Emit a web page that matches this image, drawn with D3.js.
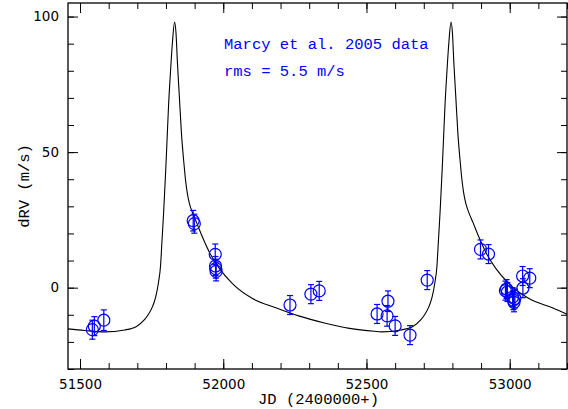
<!DOCTYPE html>
<html>
<head>
<meta charset="utf-8">
<script src="https://cdn.jsdelivr.net/npm/d3@7"></script>
<style>
  body { margin: 0; background: #fff; }
  svg { display: block; }
  .tick text { font-family: 'DejaVu Sans', sans-serif; font-size: 13.5px; fill: #000; }
  .lbl { font-family: 'Liberation Mono', monospace; font-size: 15.5px; }
</style>
</head>
<body>
<svg width="568" height="409"></svg>
<script>
// observed radial velocities (JD - 2400000, dRV in m/s, error)
const obsJD  = [51543, 51550, 51583, 51895, 51899, 51972, 51973, 51974, 51975,
                52233, 52306, 52335, 52537, 52572, 52575, 52600, 52652, 52712,
                52898, 52926, 52985, 52989, 52992, 53010, 53013, 53015, 53018,
                53045, 53046, 53070];
const obsRV  = [-15.5, -14.2, -12.0, 24.7, 23.6, 12.3, 8.0, 7.0, 6.0,
                -6.4, -2.4, -1.2, -9.7, -10.4, -5.0, -14.1, -17.5, 2.8,
                14.1, 12.4, -1.1, -0.5, -1.6, -3.5, -4.6, -5.4, -4.0,
                4.3, -0.2, 3.5];
const obsErr = [3.5, 3.5, 3.8, 3.8, 3.5, 3.8, 3.5, 3.5, 3.5,
                3.5, 3.5, 3.5, 3.5, 3.8, 3.8, 3.5, 3.5, 3.5,
                3.5, 3.5, 3.5, 3.5, 3.5, 3.5, 3.5, 3.5, 3.5,
                3.5, 3.5, 3.5];

// model curve
const fitJD = [51458, 51516, 51586, 51656, 51697, 51725, 51739, 51753, 51764, 51774,
               51781, 51786, 51792, 51799, 51804, 51809, 51816, 51823, 51830, 51835,
               51840, 51847, 51854, 51863, 51868, 51875, 51882, 51893, 51907, 51928,
               51952, 51987, 52032, 52102, 52186, 52266, 52353, 52441, 52528, 52551,
               52620, 52662, 52690, 52704, 52718, 52729, 52739, 52746, 52751, 52757,
               52764, 52769, 52774, 52781, 52788, 52795, 52800, 52805, 52812, 52819,
               52828, 52833, 52840, 52847, 52858, 52872, 52893, 52917, 52952, 52997,
               53067, 53151, 53200];
const fitRV = [-15.2, -15.8, -16.3, -15.6, -14.3, -11.8, -9.8, -7.0, -3.5, 2.0,
               8.0, 17.0, 28.0, 43.0, 55.0, 67.0, 80.0, 91.0, 98.0, 94.0,
               83.0, 70.0, 57.0, 45.5, 40.0, 34.5, 31.0, 27.5, 24.0, 18.5,
               13.0, 7.0, 1.5, -4.0, -7.5, -10.5, -13.0, -15.0, -16.1, -16.3,
               -15.6, -14.3, -11.8, -9.8, -7.0, -3.5, 2.0, 8.0, 17.0, 28.0,
               43.0, 55.0, 67.0, 80.0, 91.0, 98.0, 94.0, 83.0, 70.0, 57.0,
               45.5, 40.0, 34.5, 31.0, 27.5, 24.0, 18.5, 13.0, 7.0, 1.5,
               -4.0, -7.5, -9.8];

const xMajor = [51500, 52000, 52500, 53000];
const xMinor = d3.range(51500, 53201, 100);
const yMajor = [0, 50, 100];
const yMinor = d3.range(-30, 106, 10);

const svg = d3.select('svg'),
      mLeft = 68, mRight = 567, mTop = 3, mBottom = 369;

const x = d3.scaleLinear().domain([51458, 53200]).range([mLeft, mRight]);
const y = d3.scaleLinear().domain([-30, 105]).range([mBottom, mTop]);

// minor ticks on all four sides
svg.append('g').attr('transform', 'translate(0,' + mBottom + ')')
    .call(d3.axisBottom(x).tickValues(xMinor).tickSize(-6).tickSizeOuter(0).tickFormat(''));
svg.append('g').attr('transform', 'translate(0,' + mTop + ')')
    .call(d3.axisTop(x).tickValues(xMinor).tickSize(-6).tickSizeOuter(0).tickFormat(''));
svg.append('g').attr('transform', 'translate(' + mLeft + ',0)')
    .call(d3.axisLeft(y).tickValues(yMinor).tickSize(-6).tickSizeOuter(0).tickFormat(''));
svg.append('g').attr('transform', 'translate(' + mRight + ',0)')
    .call(d3.axisRight(y).tickValues(yMinor).tickSize(-6).tickSizeOuter(0).tickFormat(''));

// major ticks + labels
svg.append('g').attr('transform', 'translate(0,' + mBottom + ')')
    .call(d3.axisBottom(x).tickValues(xMajor).tickSize(-10).tickSizeOuter(0).tickPadding(10).tickFormat(d3.format('d')));
svg.append('g').attr('transform', 'translate(0,' + mTop + ')')
    .call(d3.axisTop(x).tickValues(xMajor).tickSize(-10).tickSizeOuter(0).tickFormat(''));
svg.append('g').attr('transform', 'translate(' + mLeft + ',0)')
    .call(d3.axisLeft(y).tickValues(yMajor).tickSize(-10).tickSizeOuter(0).tickPadding(9).tickFormat(d3.format('d')));
svg.append('g').attr('transform', 'translate(' + mRight + ',0)')
    .call(d3.axisRight(y).tickValues(yMajor).tickSize(-10).tickSizeOuter(0).tickFormat(''));

svg.selectAll('.domain').remove();
svg.selectAll('.tick line').attr('stroke', '#000').attr('stroke-width', 1);

svg.append('rect')
    .attr('x', mLeft).attr('y', mTop)
    .attr('width', mRight - mLeft).attr('height', mBottom - mTop)
    .attr('fill', 'none').attr('stroke', '#000').attr('stroke-width', 1.3);

// fitted curve
const fit = fitJD.map((d, i) => [d, fitRV[i]]);
const line = d3.line()
    .x((d) => x(d[0]))
    .y((d) => y(d[1]))
    .curve(d3.curveMonotoneX);

svg.append('path')
    .datum(fit)
    .attr('d', line)
    .attr('fill', 'none')
    .attr('stroke', '#000')
    .attr('stroke-width', 1.1);

// data with error bars
const obs = obsJD.map((d, i) => ({jd: d, rv: obsRV[i], err: obsErr[i]}));
const pts = svg.append('g').attr('stroke', '#0000ff').attr('fill', 'none').attr('stroke-width', 1.2);

const p = pts.selectAll('g').data(obs).enter().append('g');
p.append('line')
    .attr('x1', (d) => x(d.jd)).attr('x2', (d) => x(d.jd))
    .attr('y1', (d) => y(d.rv - d.err)).attr('y2', (d) => y(d.rv + d.err));
p.append('line')
    .attr('x1', (d) => x(d.jd) - 3).attr('x2', (d) => x(d.jd) + 3)
    .attr('y1', (d) => y(d.rv + d.err)).attr('y2', (d) => y(d.rv + d.err));
p.append('line')
    .attr('x1', (d) => x(d.jd) - 3).attr('x2', (d) => x(d.jd) + 3)
    .attr('y1', (d) => y(d.rv - d.err)).attr('y2', (d) => y(d.rv - d.err));
p.append('circle')
    .attr('cx', (d) => x(d.jd)).attr('cy', (d) => y(d.rv))
    .attr('r', 6);

// labels
svg.append('text').attr('class', 'lbl')
    .attr('x', 224).attr('y', 49).attr('fill', '#0000ff')
    .text('Marcy et al. 2005 data');
svg.append('text').attr('class', 'lbl')
    .attr('x', 224).attr('y', 76).attr('fill', '#0000ff')
    .text('rms = 5.5 m/s');

svg.append('text').attr('class', 'lbl')
    .attr('x', (mLeft + mRight) / 2 + 1).attr('y', 404)
    .attr('text-anchor', 'middle')
    .text('JD (2400000+)');
svg.append('text').attr('class', 'lbl')
    .attr('transform', 'translate(29,' + (mTop + mBottom) / 2 + ') rotate(-90)')
    .attr('text-anchor', 'middle')
    .text('dRV (m/s)');
</script>
</body>
</html>
